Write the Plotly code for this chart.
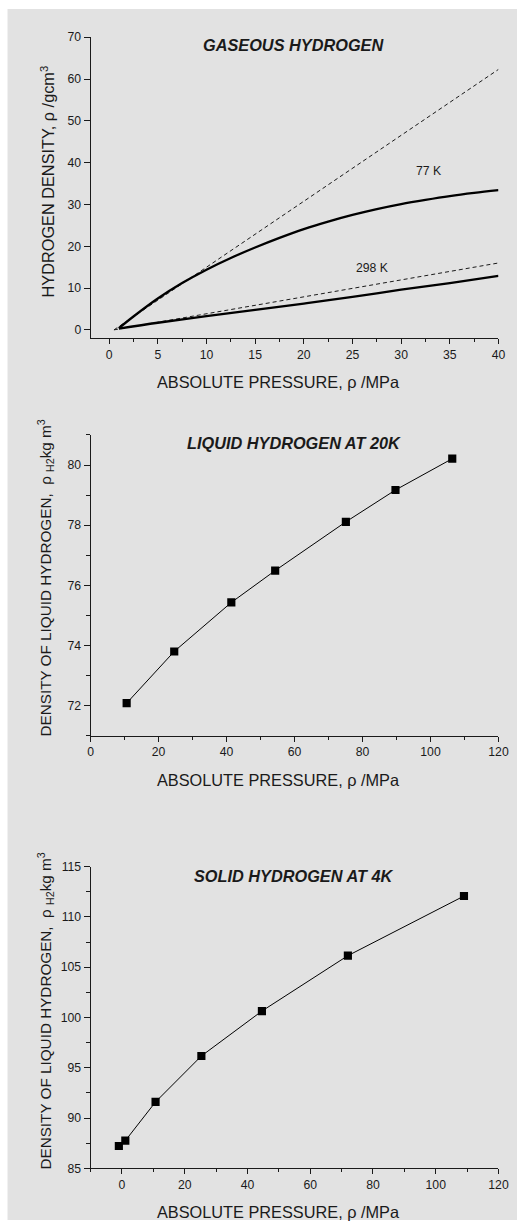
import plotly.graph_objects as go

W, H = 527, 1227

# ---------------- data ----------------
# Gaseous hydrogen (panel 1)
p77_solid_x = [1, 2.5, 5, 7.5, 10, 12.5, 15, 17.5, 20, 22.5, 25, 27.5, 30, 32.5, 35, 37.5, 40]
p77_solid_y = [0.4, 3.2, 7.5, 11.2, 14.4, 17.2, 19.7, 22.0, 24.1, 25.9, 27.5, 28.9, 30.1, 31.1, 32.0, 32.75, 33.4]
p77_ideal_x = [0.5, 40]
p77_ideal_y = [0.0, 62.3]
p298_solid_x = [1, 5, 10, 15, 20, 25, 30, 35, 40]
p298_solid_y = [0.3, 1.7, 3.3, 4.8, 6.3, 7.9, 9.6, 11.2, 12.9]
p298_ideal_x = [0.5, 40]
p298_ideal_y = [0.0, 16.0]

# Liquid hydrogen at 20K (panel 2)
liq_p = [10.6, 24.6, 41.4, 54.3, 75.1, 89.7, 106.4]
liq_rho = [72.08, 73.8, 75.43, 76.49, 78.11, 79.17, 80.21]

# Solid hydrogen at 4K (panel 3)
sol_p = [-1.0, 1.06, 10.7, 25.3, 44.6, 72.0, 109.0]
sol_rho = [87.22, 87.75, 91.6, 96.17, 100.64, 106.15, 112.08]

titles = ["GASEOUS HYDROGEN", "LIQUID HYDROGEN AT 20K", "SOLID HYDROGEN AT 4K"]
xtitle = "ABSOLUTE PRESSURE, \u03c1 /MPa"
ytitles = ["HYDROGEN DENSITY, \u03c1 /gcm<sup>3</sup>",
           "DENSITY OF LIQUID HYDROGEN,  \u03c1 <sub>H2</sub>kg m<sup>3</sup>",
           "DENSITY OF LIQUID HYDROGEN,  \u03c1 <sub>H2</sub>kg m<sup>3</sup>"]

FONT = "Liberation Sans, Arial, Helvetica, sans-serif"
INK = "#1a1a1a"
GRAY = "#e2e2e2"

# the photographed page comes out slightly shrunk; place things so the picture lands on target
SX, OX = 0.974, 2.5
SY, OY = 0.9885, 7.1
FS = 1.0 / ((SX + SY) / 2)

def px(x):
    return ((x - OX) / SX) / W

def py(y):
    return 1 - ((y - OY) / SY) / H

fig = go.Figure()

# panel 1 traces
fig.add_trace(go.Scatter(x=p77_ideal_x, y=p77_ideal_y, mode="lines",
                         line=dict(color=INK, width=1, dash="4px,3px"),
                         xaxis="x", yaxis="y", showlegend=False))
fig.add_trace(go.Scatter(x=p298_ideal_x, y=p298_ideal_y, mode="lines",
                         line=dict(color=INK, width=1, dash="4px,3px"),
                         xaxis="x", yaxis="y", showlegend=False))
fig.add_trace(go.Scatter(x=p77_solid_x, y=p77_solid_y, mode="lines",
                         line=dict(color="black", width=2.3, shape="spline"),
                         xaxis="x", yaxis="y", showlegend=False))
fig.add_trace(go.Scatter(x=p298_solid_x, y=p298_solid_y, mode="lines",
                         line=dict(color="black", width=2.3, shape="spline"),
                         xaxis="x", yaxis="y", showlegend=False))

# panel 2
fig.add_trace(go.Scatter(x=liq_p, y=liq_rho, mode="lines+markers",
                         line=dict(color="black", width=1),
                         marker=dict(symbol="square", size=8 * FS, color="black"),
                         xaxis="x2", yaxis="y2", showlegend=False))
# panel 3
fig.add_trace(go.Scatter(x=sol_p, y=sol_rho, mode="lines+markers",
                         line=dict(color="black", width=1),
                         marker=dict(symbol="square", size=8 * FS, color="black"),
                         xaxis="x3", yaxis="y3", showlegend=False))

xdom = [px(90), px(497.3)]
ydoms = [[py(338.3), py(37.3)], [py(735.7), py(435)], [py(1168.3), py(866.7)]]

def xax(rng, dtick, mdtick, anchor, dom_y):
    return dict(domain=xdom, range=rng, anchor=anchor, showline=True, linecolor=INK,
                linewidth=1, ticks="outside", ticklen=5, tickwidth=1, tickcolor=INK,
                dtick=dtick, tick0=0, showgrid=False, zeroline=False,
                tickfont=dict(family=FONT, size=12 * FS, color=INK),
                minor=dict(ticks="outside", ticklen=3, dtick=mdtick, tick0=0,
                           tickcolor=INK, showgrid=False),
                fixedrange=True)

def yax(rng, dtick, mdtick, anchor, dom):
    d = dict(domain=dom, range=rng, anchor=anchor, showline=True, linecolor=INK,
             linewidth=1, ticks="outside", ticklen=6, tickwidth=1, tickcolor=INK,
             dtick=dtick, tick0=0, showgrid=False, zeroline=False,
             tickfont=dict(family=FONT, size=12 * FS, color=INK), fixedrange=True)
    if mdtick:
        d["minor"] = dict(ticks="outside", ticklen=4, dtick=mdtick, tick0=0,
                          tickcolor=INK, showgrid=False)
    return d

fig.update_layout(
    width=W, height=H,
    margin=dict(l=0, r=0, t=0, b=0),
    paper_bgcolor="white", plot_bgcolor="rgba(0,0,0,0)",
    font=dict(family=FONT, color=INK),
    xaxis=xax([-1.9, 40], 5, 2.5, "y", ydoms[0]),
    yaxis=yax([-2, 70], 10, None, "x", ydoms[0]),
    xaxis2=xax([0, 120], 20, 10, "y2", ydoms[1]),
    yaxis2=yax([71, 81], 2, 1, "x2", ydoms[1]),
    xaxis3=xax([-10, 120], 20, 10, "y3", ydoms[2]),
    yaxis3=yax([85, 115], 5, 2.5, "x3", ydoms[2]),
    shapes=[dict(type="rect", xref="paper", yref="paper", x0=px(7), x1=1,
                 y0=0, y1=py(9), fillcolor=GRAY, line=dict(width=0), layer="below")],
)

ann = []
title_y = [45, 443, 876]
xtitle_y = [382, 780, 1212]
ytitle_c = [(47, 182), (45, 578), (45, 1011)]
for i in range(3):
    ann.append(dict(text="<b><i>" + titles[i] + "</i></b>", xref="paper", yref="paper",
                    x=px(293), y=py(title_y[i]), showarrow=False,
                    xanchor="center", yanchor="middle",
                    font=dict(family=FONT, size=16 * FS, color=INK)))
    ann.append(dict(text=xtitle, xref="paper", yref="paper",
                    x=px(278), y=py(xtitle_y[i]), showarrow=False,
                    xanchor="center", yanchor="middle",
                    font=dict(family=FONT, size=16 * FS, color=INK)))
    ann.append(dict(text=ytitles[i], xref="paper", yref="paper", textangle=-90,
                    x=px(ytitle_c[i][0]), y=py(ytitle_c[i][1]), showarrow=False,
                    xanchor="center", yanchor="middle",
                    font=dict(family=FONT, size=(16 if i == 0 else 15) * FS, color=INK)))

ann.append(dict(text="77 K", xref="x", yref="y", x=32.9, y=38.0, showarrow=False,
                font=dict(family=FONT, size=12 * FS, color=INK)))
ann.append(dict(text="298 K", xref="x", yref="y", x=27.1, y=14.8, showarrow=False,
                font=dict(family=FONT, size=12 * FS, color=INK)))
fig.update_layout(annotations=ann)

fig.write_html("out.html", config={"displayModeBar": False},
               post_script="document.body.style.margin='0';document.body.style.padding='0';"
                           "document.documentElement.style.overflow='hidden';"
                           "var d=document.getElementById('{plot_id}');"
                           "d.style.boxShadow='20px 20px 0 0 " + GRAY + "';")
